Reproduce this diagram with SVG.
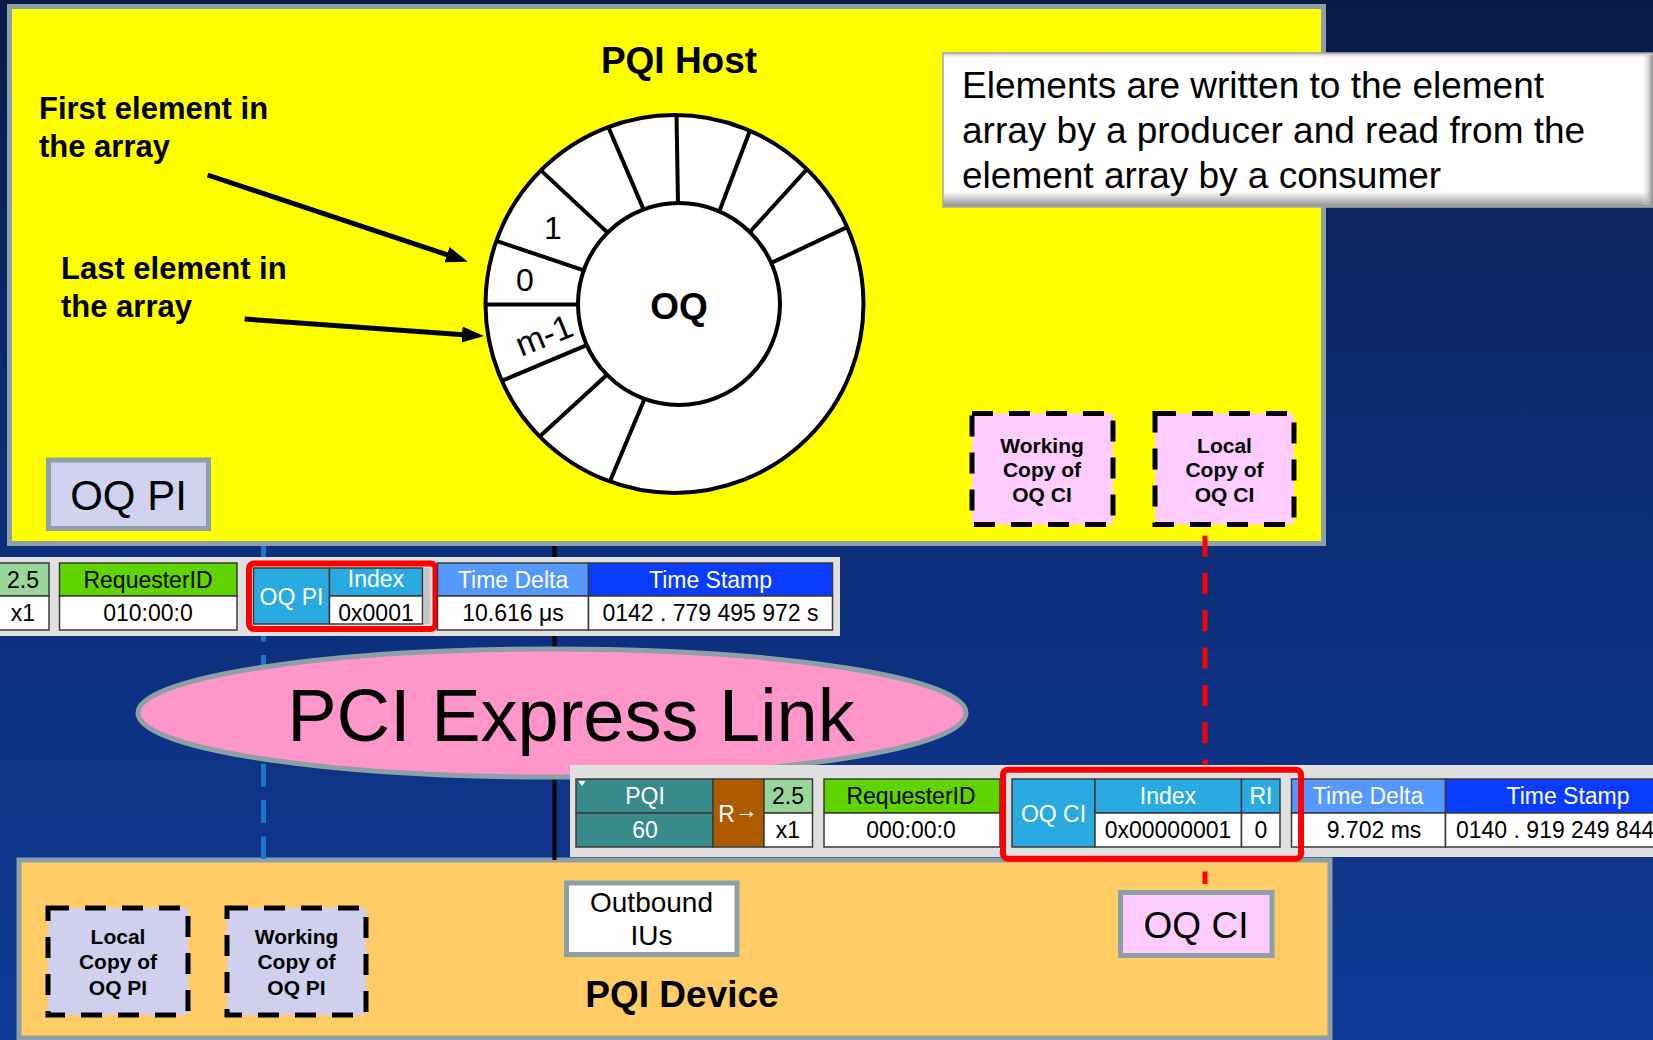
<svg xmlns="http://www.w3.org/2000/svg" width="1653" height="1040" viewBox="0 0 1653 1040">
  <defs>
    <style>
      text { font-family: "Liberation Sans", Arial, sans-serif; fill: #000; }
      .b { font-weight: bold; }
      .mid { text-anchor: middle; }
      .box { stroke: #8da0a8; stroke-width: 5; }
      .dash { stroke: #000; stroke-width: 5; stroke-dasharray: 21 16; }
      .cell { stroke: #3a3a3a; stroke-width: 1.5; }
      .panel { fill: #e0e0e0; }
      .hdr { font-size: 23px; }
      .w { fill: #fff; }
      .hl { fill: none; stroke: #ff0000; stroke-width: 6; }
      .ring { fill: #fff; stroke: #000; stroke-width: 4; }
      .spoke { stroke: #000; stroke-width: 4; }
      .lbl { font-size: 21px; font-weight: bold; }
    </style>
    <linearGradient id="bg" x1="0" y1="0" x2="0" y2="1">
      <stop offset="0" stop-color="#0a1a48"/>
      <stop offset="0.4" stop-color="#0c2b72"/>
      <stop offset="1" stop-color="#0f3a95"/>
    </linearGradient>
    <linearGradient id="bevelV" x1="0" y1="0" x2="0" y2="1">
      <stop offset="0" stop-color="#c8c8c8"/>
      <stop offset="0.03" stop-color="#ffffff"/>
      <stop offset="0.9" stop-color="#ffffff"/>
      <stop offset="1" stop-color="#8c8c8c"/>
    </linearGradient>
    <linearGradient id="bevelH" x1="0" y1="0" x2="1" y2="0">
      <stop offset="0" stop-color="#ffffff" stop-opacity="0"/>
      <stop offset="1" stop-color="#8c8c8c"/>
    </linearGradient>
    <marker id="head" markerUnits="userSpaceOnUse" markerWidth="22" markerHeight="16" refX="12" refY="8" orient="auto">
      <path d="M0,0 L22,8 L0,16 z" fill="#000"/>
    </marker>
  </defs>

  <!-- backdrop -->
  <rect x="0" y="0" width="1653" height="1040" fill="url(#bg)"/>

  <!-- host side -->
  <g id="pqi-host">
    <rect class="box" x="9.5" y="6.5" width="1314" height="537" fill="#ffff00"/>
    <text class="b mid" x="679" y="73" font-size="37">PQI Host</text>
    <text class="b" x="39" y="119" font-size="31">First element in</text>
    <text class="b" x="39" y="157" font-size="31">the array</text>
    <text class="b" x="61" y="279" font-size="31">Last element in</text>
    <text class="b" x="61" y="317" font-size="31">the array</text>
  </g>

  <!-- circular element array -->
  <g id="oq-ring">
    <circle class="ring" cx="674.5" cy="304" r="189"/>
    <line class="spoke" x1="644.5" y1="398.9" x2="609.9" y2="481.6"/>
    <line class="spoke" x1="607" y1="374.8" x2="539.7" y2="436.5"/>
    <line class="spoke" x1="586.7" y1="345.1" x2="501.8" y2="380.9"/>
    <line class="spoke" x1="578" y1="304.5" x2="485.5" y2="304.5"/>
    <line class="spoke" x1="583.8" y1="270.3" x2="496.3" y2="240.9"/>
    <line class="spoke" x1="607.6" y1="232.6" x2="540.9" y2="170.4"/>
    <line class="spoke" x1="643.6" y1="209.4" x2="608.3" y2="127"/>
    <line class="spoke" x1="678" y1="203" x2="676.5" y2="115"/>
    <line class="spoke" x1="719.3" y1="211.4" x2="749.9" y2="130.7"/>
    <line class="spoke" x1="749.8" y1="232" x2="807" y2="169.2"/>
    <line class="spoke" x1="771.3" y1="262.9" x2="847.2" y2="227.1"/>
    <circle class="ring" cx="679" cy="304" r="101"/>
    <text class="mid" x="553" y="239" font-size="32">1</text>
    <text class="mid" x="525" y="291" font-size="32">0</text>
    <text class="mid" font-size="34" transform="translate(544,335) rotate(-22)" dy="12">m-1</text>
    <text class="b mid" x="679" y="319" font-size="37">OQ</text>
  </g>

  <g id="note">
    <rect x="943" y="53" width="710" height="154" fill="url(#bevelV)" stroke="#a8a8a8" stroke-width="1.5"/>
    <rect x="1641" y="55" width="12" height="150" fill="url(#bevelH)"/>
    <text x="962" y="98" font-size="37">Elements are written to the element</text>
    <text x="962" y="143" font-size="37">array by a producer and read from the</text>
    <text x="962" y="188" font-size="37">element array by a consumer</text>
  </g>

  <g id="oq-pi-host">
    <rect class="box" x="48.5" y="460" width="160" height="68.5" fill="#d0d2ef"/>
    <text class="mid" x="128.5" y="510" font-size="42">OQ PI</text>
  </g>

  <g id="working-oq-ci">
    <rect class="dash" x="972" y="413.5" width="141" height="111" fill="#ffccff"/>
    <text class="lbl mid" x="1042" y="453">Working</text>
    <text class="lbl mid" x="1042" y="477">Copy of</text>
    <text class="lbl mid" x="1042" y="502">OQ CI</text>
  </g>

  <g id="local-oq-ci">
    <rect class="dash" x="1155" y="413.5" width="139" height="111" fill="#ffccff"/>
    <text class="lbl mid" x="1224.5" y="453">Local</text>
    <text class="lbl mid" x="1224.5" y="477">Copy of</text>
    <text class="lbl mid" x="1224.5" y="502">OQ CI</text>
  </g>

  <!-- device side -->
  <g id="pqi-device">
    <rect class="box" x="19" y="860" width="1311" height="178" fill="#ffcc66"/>
    <text class="b mid" x="682" y="1007" font-size="37">PQI Device</text>
  </g>

  <g id="local-oq-pi">
    <rect class="dash" x="48" y="908" width="140" height="107" fill="#d0d0ee"/>
    <text class="lbl mid" x="118" y="944">Local</text>
    <text class="lbl mid" x="118" y="969">Copy of</text>
    <text class="lbl mid" x="118" y="995">OQ PI</text>
  </g>

  <g id="working-oq-pi">
    <rect class="dash" x="227" y="908" width="139" height="107" fill="#d0d0ee"/>
    <text class="lbl mid" x="296.5" y="944">Working</text>
    <text class="lbl mid" x="296.5" y="969">Copy of</text>
    <text class="lbl mid" x="296.5" y="995">OQ PI</text>
  </g>

  <g id="outbound-ius">
    <rect class="box" x="566.5" y="883" width="170.5" height="71.5" fill="#ffffff"/>
    <text class="mid" x="651.5" y="912" font-size="28">Outbound</text>
    <text class="mid" x="651.5" y="945" font-size="28">IUs</text>
  </g>

  <g id="oq-ci-device">
    <rect class="box" x="1120.5" y="892.5" width="151.5" height="63" fill="#ffccff"/>
    <text class="mid" x="1196" y="938" font-size="37">OQ CI</text>
  </g>

  <!-- connectors -->
  <g id="connectors">
    <line x1="263.5" y1="546" x2="263.5" y2="859" stroke="#1a75cc" stroke-width="5" stroke-dasharray="23 13.3"/>
    <line x1="554.5" y1="546" x2="554.5" y2="860" stroke="#000" stroke-width="4"/>
    <line x1="1205" y1="535.7" x2="1205" y2="884" stroke="#ff0000" stroke-width="5" stroke-dasharray="21 16.3"/>
    <line x1="207.6" y1="175" x2="458.4" y2="258.5" stroke="#000" stroke-width="5" marker-end="url(#head)"/>
    <line x1="244.6" y1="319" x2="474" y2="335.4" stroke="#000" stroke-width="5" marker-end="url(#head)"/>
  </g>

  <g id="pcie-link">
    <ellipse cx="552" cy="713" rx="414" ry="64" fill="#ff96ca" stroke="#8da0a8" stroke-width="5"/>
    <text class="mid" x="571" y="741" font-size="74">PCI Express Link</text>
  </g>

  <!-- host-side trace record -->
  <g id="trace-host">
    <rect class="panel" x="0" y="557" width="840" height="79"/>
    <rect class="cell" x="-1" y="563" width="50" height="33" fill="#99d699"/>
    <rect class="cell" x="-1" y="596" width="50" height="34" fill="#fff"/>
    <text class="hdr mid" x="23" y="588">2.5</text>
    <text class="hdr mid" x="23" y="621">x1</text>
    <rect class="cell" x="59.5" y="563" width="177.5" height="33" fill="#5fd400"/>
    <rect class="cell" x="59.5" y="596" width="177.5" height="34" fill="#fff"/>
    <text class="hdr mid" x="148" y="588">RequesterID</text>
    <text class="hdr mid" x="148" y="621">010:00:0</text>
    <rect class="cell" x="253.5" y="568" width="76" height="56" fill="#29abe2"/>
    <text class="hdr mid w" x="291.5" y="605">OQ PI</text>
    <rect class="cell" x="329.5" y="568" width="93" height="28" fill="#29abe2"/>
    <rect class="cell" x="329.5" y="596" width="93" height="28" fill="#fff"/>
    <text class="hdr mid w" x="376" y="587">Index</text>
    <text class="hdr mid" x="376" y="621">0x0001</text>
    <rect x="424" y="568" width="6" height="56" fill="#c4c4c4"/>
    <rect class="hl" x="249" y="563.5" width="186.5" height="65.5" rx="5"/>
    <rect class="cell" x="437.5" y="563" width="151" height="33" fill="#5599ff"/>
    <rect class="cell" x="437.5" y="596" width="151" height="34" fill="#fff"/>
    <text class="hdr mid w" x="513" y="588">Time Delta</text>
    <text class="hdr mid" x="513" y="621">10.616 μs</text>
    <rect class="cell" x="588.5" y="563" width="244" height="33" fill="#0a3cff"/>
    <rect class="cell" x="588.5" y="596" width="244" height="34" fill="#fff"/>
    <text class="hdr mid w" x="710.5" y="588">Time Stamp</text>
    <text class="hdr mid" x="710.5" y="621">0142 . 779 495 972 s</text>
  </g>

  <!-- device-side trace record -->
  <g id="trace-device">
    <rect class="panel" x="570" y="765" width="1083" height="92"/>
    <rect class="cell" x="576" y="779" width="137" height="34" fill="#398a8a"/>
    <rect class="cell" x="576" y="813" width="137" height="34" fill="#398a8a"/>
    <polygon points="578.5,781 585.5,781 582,786" fill="#fff"/>
    <text class="hdr mid w" x="645" y="804">PQI</text>
    <text class="hdr mid w" x="645" y="838">60</text>
    <rect class="cell" x="713" y="779" width="51" height="68" fill="#ae5b00"/>
    <text class="hdr mid w" x="738" y="822">R<tspan dy="-4">→</tspan></text>
    <rect class="cell" x="764" y="779" width="48.5" height="34" fill="#99d699"/>
    <rect class="cell" x="764" y="813" width="48.5" height="34" fill="#fff"/>
    <text class="hdr mid" x="788" y="804">2.5</text>
    <text class="hdr mid" x="788" y="838">x1</text>
    <rect class="cell" x="824" y="779" width="176" height="34" fill="#5fd400"/>
    <rect class="cell" x="824" y="813" width="176" height="34" fill="#fff"/>
    <text class="hdr mid" x="911" y="804">RequesterID</text>
    <text class="hdr mid" x="911" y="838">000:00:0</text>
    <rect class="cell" x="1012" y="779" width="83" height="68" fill="#29abe2"/>
    <text class="hdr mid w" x="1053.5" y="822">OQ CI</text>
    <rect class="cell" x="1095" y="779" width="146.5" height="34" fill="#29abe2"/>
    <rect class="cell" x="1095" y="813" width="146.5" height="34" fill="#fff"/>
    <text class="hdr mid w" x="1168" y="804">Index</text>
    <text class="hdr mid" x="1168" y="838">0x00000001</text>
    <rect class="cell" x="1241.5" y="779" width="38.5" height="34" fill="#29abe2"/>
    <rect class="cell" x="1241.5" y="813" width="38.5" height="34" fill="#fff"/>
    <text class="hdr mid w" x="1261" y="804">RI</text>
    <text class="hdr mid" x="1261" y="838">0</text>
    <rect class="cell" x="1291.5" y="779" width="154" height="34" fill="#5599ff"/>
    <rect class="cell" x="1291.5" y="813" width="154" height="34" fill="#fff"/>
    <text class="hdr mid w" x="1368" y="804">Time Delta</text>
    <text class="hdr mid" x="1374" y="838">9.702 ms</text>
    <rect class="cell" x="1445.5" y="779" width="220" height="34" fill="#0a3cff"/>
    <rect class="cell" x="1445.5" y="813" width="220" height="34" fill="#fff"/>
    <text class="hdr mid w" x="1568" y="804">Time Stamp</text>
    <text class="hdr" x="1456" y="838">0140 . 919 249 844</text>
    <rect class="hl" x="1003" y="769.7" width="298" height="89" rx="5"/>
  </g>
</svg>
